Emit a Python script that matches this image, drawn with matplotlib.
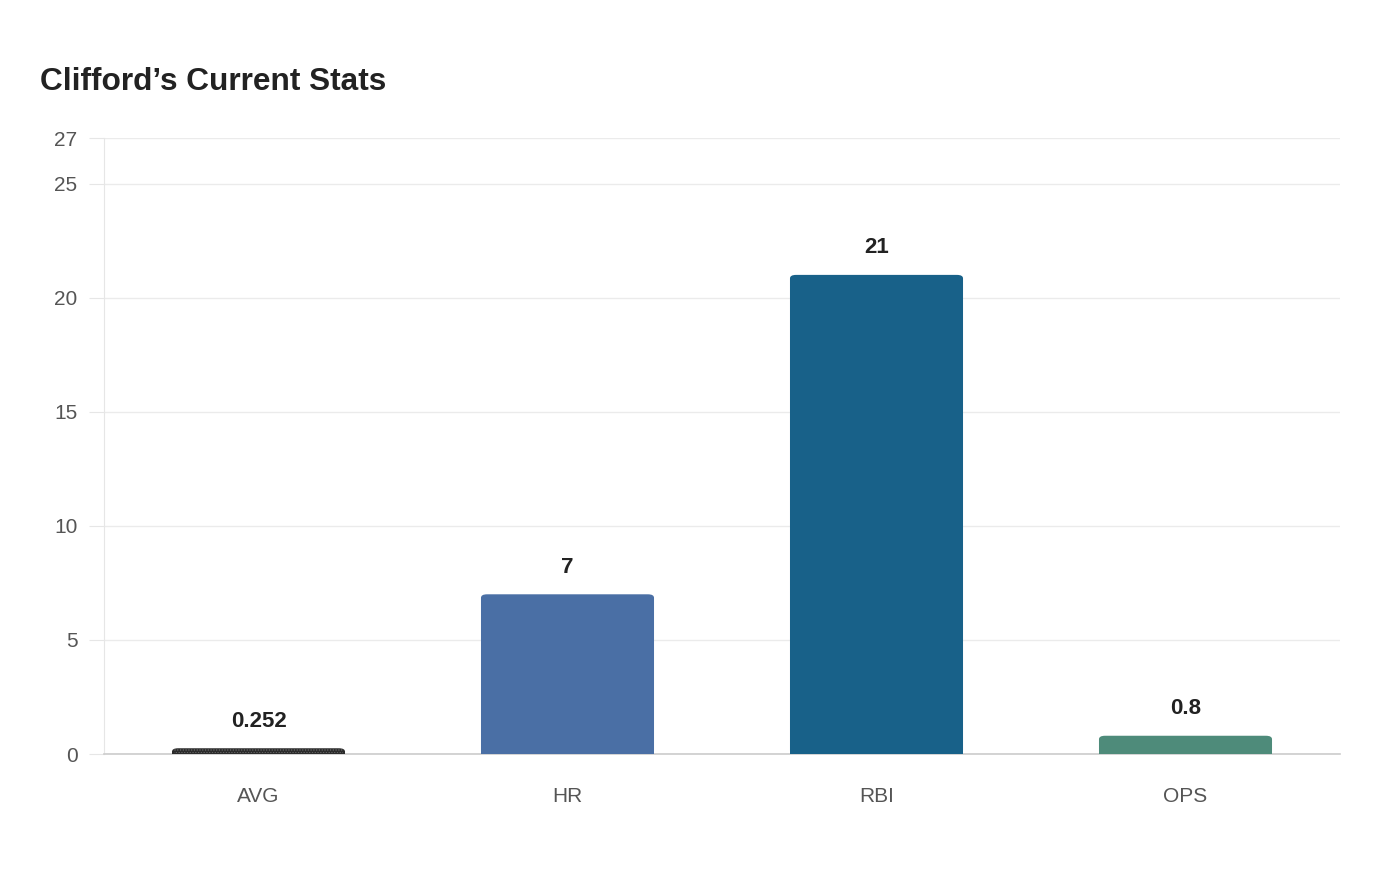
import matplotlib.pyplot as plt
from matplotlib.patches import FancyBboxPatch

# Data
categories = ['AVG', 'HR', 'RBI', 'OPS']
values = [0.252, 7, 21, 0.8]
labels = ['0.252', '7', '21', '0.8']
colors = ['#2b2b2b', '#4a6fa5', '#186189', '#4e8b7a']
yticks = [0, 5, 10, 15, 20, 25, 27]

plt.rcParams['font.family'] = ['Liberation Sans', 'DejaVu Sans']
plt.rcParams['hatch.linewidth'] = 0.6

fig = plt.figure(figsize=(14, 8.8), dpi=100)
ax = fig.add_axes([104 / 1400, 126 / 880, 1236 / 1400, 616 / 880])

width = 0.56
x = list(range(len(categories)))
bars = ax.bar(x, values, width=width, color='none', edgecolor='none')

# rounded-top bars drawn as patches on top of the bar geometry
for i, (b, c) in enumerate(zip(bars, colors)):
    x0, y0 = b.get_x(), b.get_y()
    w, h = b.get_width(), b.get_height()
    rr = min(0.15, h * 0.6)
    p = FancyBboxPatch((x0, y0), w, h,
                       boxstyle="round,pad=0,rounding_size=0.02",
                       mutation_aspect=rr / 0.02 if rr else 1,
                       facecolor=c, edgecolor='none', zorder=3)
    ax.add_patch(p)
    # square off bottom corners
    ax.bar(x0 + w / 2, min(h, rr), width=w, bottom=y0, color=c, zorder=3)
    if i == 0:
        # dotted pattern on the AVG bar
        ax.bar(x0 + w / 2, h * 0.8, width=w * 0.98, bottom=y0 + h * 0.1,
               color='none', edgecolor='#6a6a6a', linewidth=0,
               hatch='......', zorder=4)

for xi, v, lab in zip(x, values, labels):
    ax.annotate(lab, (xi, v), xytext=(0, 12), textcoords='offset points',
                ha='center', va='bottom', fontsize=16, fontweight='bold',
                color='#222222')

ax.set_xlim(-0.5, len(categories) - 0.5)
ax.set_ylim(0, 27)
ax.set_yticks(yticks)
ax.set_xticks(x)
ax.set_xticklabels(categories)
ax.tick_params(axis='y', length=11, color='#e6e6e6', labelsize=15,
               labelcolor='#555555', pad=8)
ax.tick_params(axis='x', length=0, labelsize=15, labelcolor='#555555', pad=24)

ax.grid(axis='y', color='#ebebeb', linewidth=1)
ax.set_axisbelow(True)
for s in ['top', 'right']:
    ax.spines[s].set_visible(False)
ax.spines['left'].set_color('#e6e6e6')
ax.spines['bottom'].set_color('#cccccc')
ax.spines['bottom'].set_linewidth(1.2)

fig.text(40 / 1400, 1 - 82 / 880, 'Clifford\u2019s Current Stats', fontsize=22.8,
         fontweight='bold', color='#222222', ha='left', va='center')

fig.savefig('out.png', dpi=100, facecolor='white')
